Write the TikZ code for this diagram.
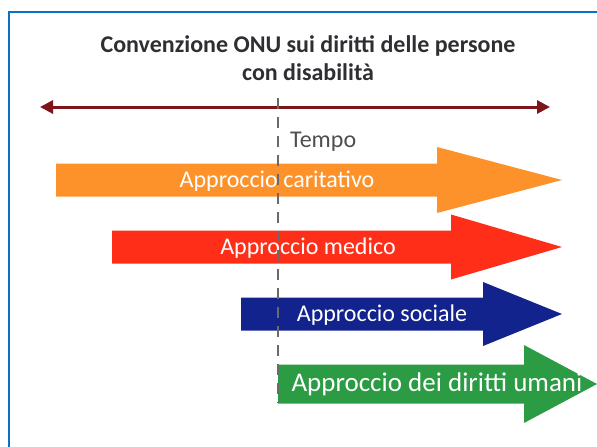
\documentclass[tikz,border=0pt]{standalone}
\usepackage{fontspec}
\setmainfont{Carlito}
\usepackage{tikz}
\usetikzlibrary{arrows.meta, positioning}
\definecolor{cornice}{HTML}{0A72C2}
\definecolor{titolo}{HTML}{2E2E33}
\definecolor{linea}{HTML}{7E1518}
\definecolor{tratto}{HTML}{6A6A6A}
\definecolor{arancio}{HTML}{FD922A}
\definecolor{rosso}{HTML}{FE2E19}
\definecolor{blu}{HTML}{12238E}
\definecolor{verde}{HTML}{2B9B44}

\begin{document}
\begin{tikzpicture}[x=1pt, y=-1pt, >={Triangle[length=13pt,width=13pt]},
    etichetta/.style={text=white, anchor=base, inner sep=0pt}]
    \useasboundingbox (0,0) rectangle (597,447);
    \clip (0,0) rectangle (597,447);

        % Cornice
        \draw[cornice, line width=2.5pt] (9,12) rectangle (630,480);

        % Titolo
        \node[font=\bfseries\fontsize{24}{28}\selectfont, text=titolo, align=center] (titolo) at (308,58) {Convenzione ONU sui diritti delle persone\\con disabilità};

        % Linea del tempo
        \coordinate (sx) at (40,107);
        \coordinate (dx) at (550,107);
        \draw[<->, linea, line width=3pt] (sx) -- (dx);

        % Frecce degli approcci
        \foreach \nome/\col/\xa/\xb/\xc/\yc/\hb/\hh/\xt/\fs/\testo in {
            caritativo/arancio/56/437/562/180/16.5/33/277/24/{Approccio caritativo},
            medico/rosso/112/451/562/247/16.5/32.5/308/24/{Approccio medico},
            sociale/blu/241/483/562/314/16.5/32/382/24/{Approccio sociale},
            diritti/verde/278/524/597/384/19.5/39/437/27/{Approccio dei diritti umani}} {
    \fill[\col] (\xa,\yc-\hb) -- (\xb,\yc-\hb) -- (\xb,\yc-\hh) -- (\xc,\yc)
        -- (\xb,\yc+\hh) -- (\xb,\yc+\hb) -- (\xa,\yc+\hb) -- cycle;
    \node[etichetta, font=\fontsize{\fs}{\fs}\selectfont] (\nome) at (\xt,\yc+7) {\testo};
}

        % Linea tratteggiata
        \coordinate (t0) at (278,98);
        \coordinate (t1) at (278,403);
        \draw[tratto, line width=1.6pt, dash pattern=on 11pt off 8pt] (t0) -- (t1);

        \node[text=titolo!85, font=\fontsize{24}{28}\selectfont, anchor=base west, inner sep=0pt] (tempo) at (290,147) {Tempo};
    \end{tikzpicture}
\end{document}
